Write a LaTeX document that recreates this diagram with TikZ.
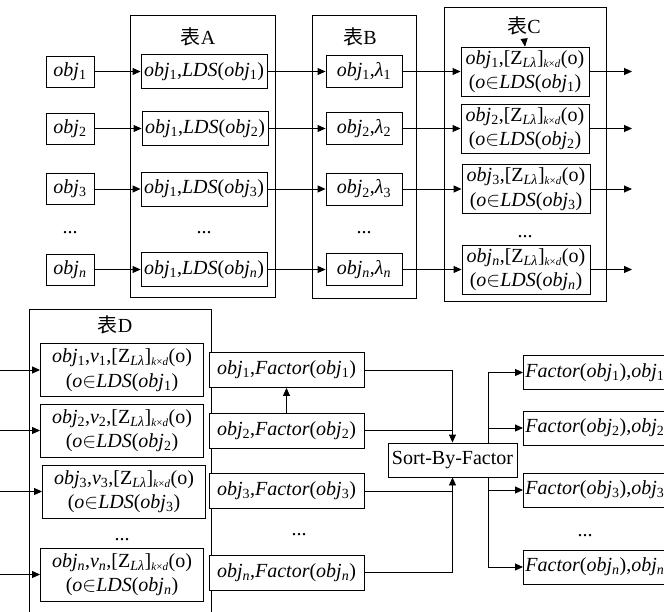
\documentclass[tikz,border=0pt]{standalone}
\usepackage{fontspec}
\setmainfont{Liberation Serif}
\newfontfamily\cjk{Noto Sans CJK SC}
\usetikzlibrary{arrows.meta}
\newcommand{\ob}[1]{\textit{obj}\textsubscript{#1}}
\newcommand{\lm}[1]{\textit{λ}\textsubscript{#1}}
\newcommand{\zl}{[Z\textsubscript{\textit{Lλ}}]\textsubscript{\fontsize{11pt}{11pt}\selectfont\textit{k}×\textit{d}}(o)}
\newcommand{\ld}[1]{(\textit{o}$\in$\textit{LDS}(\ob{#1})}

\begin{document}
\begin{tikzpicture}[x=1pt,y=-1pt,line width=0.9pt,font=\fontsize{20pt}{24.5pt}\selectfont]
  \tikzstyle{every node}+=[inner sep=2pt]
  \tikzstyle{box}=[draw,fill=white,minimum height=34pt]
  \tikzstyle{twoline}=[box,align=center,inner sep=1pt]
  \tikzstyle{arr}=[-{Triangle[length=8pt,width=7pt]}]
  \useasboundingbox (0,0) rectangle (664,612);
  \fill [white] (0,0) rectangle (664,612);
  % tables
  \draw (130,15) rectangle (275,297);
  \draw (312,15) rectangle (416,298);
  \draw (444,7) rectangle (606,301);
  \draw (29,309) rectangle (211,640);
  \node (ta) at (198,37) {{\cjk 表}A};
  \node (tb) at (360,37) {{\cjk 表}B};
  \node (tc) at (524,26) {{\cjk 表}C};
  \node (td) at (115,325) {{\cjk 表}D};
  % objects
  \node [box,minimum width=48pt,minimum height=31pt] (o1) at (70,71.5) {\ob{1}};
  \node [box,minimum width=48pt,minimum height=31pt] (o2) at (70,128.5) {\ob{2}};
  \node [box,minimum width=48pt,minimum height=31pt] (o3) at (70,189) {\ob{3}};
  \node (od) at (70,233) {...};
  \node [box,minimum width=48pt,minimum height=31pt] (on) at (70,269.5) {\ob{\textit{n}}};
  % table A
  \node [box,minimum width=126pt] (a1) at (204,71.5) {\ob{1},\textit{LDS}(\ob{1})};
  \node [box,minimum width=126pt] (a2) at (205,128.5) {\ob{1},\textit{LDS}(\ob{2})};
  \node [box,minimum width=126pt] (a3) at (204,189) {\ob{1},\textit{LDS}(\ob{3})};
  \node (ad) at (204,233) {...};
  \node [box,minimum width=126pt] (an) at (204,269.5) {\ob{1},\textit{LDS}(\ob{\textit{n}})};
  % table B
  \node [box,minimum width=76pt,minimum height=32pt] (b1) at (364,71.5) {\ob{1},\lm{1}};
  \node [box,minimum width=76pt,minimum height=32pt] (b2) at (364,128.5) {\ob{2},\lm{2}};
  \node [box,minimum width=76pt,minimum height=32pt] (b3) at (364,189) {\ob{2},\lm{3}};
  \node (bd) at (364,233) {...};
  \node [box,minimum width=76pt,minimum height=32pt] (bn) at (364,269.5) {\ob{\textit{n}},\lm{\textit{n}}};
  % table C
  \node [twoline,minimum width=128pt,minimum height=49pt] (c1) at (525,71.5) {\ob{1},\zl\\\ld{1}};
  \node [twoline,minimum width=128pt,minimum height=49pt] (c2) at (525,128.5) {\ob{2},\zl\\\ld{2}};
  \node [twoline,minimum width=128pt,minimum height=49pt] (c3) at (526,189) {\ob{3},\zl\\\ld{3}};
  \node (cd) at (525,237) {...};
  \node [twoline,minimum width=128pt,minimum height=49pt] (cn) at (526,269.5) {\ob{\textit{n}},\zl\\\ld{\textit{n}}};
  \coordinate (e1) at (632,71.5);
  \coordinate (e2) at (632,128.5);
  \coordinate (e3) at (632,189);
  \coordinate (en) at (632,269.5);
  \draw [arr] (o1) -- (a1);
  \draw [arr] (o2) -- (a2);
  \draw [arr] (o3) -- (a3);
  \draw [arr] (on) -- (an);
  \draw [arr] (a1) -- (b1);
  \draw [arr] (a2) -- (b2);
  \draw [arr] (a3) -- (b3);
  \draw [arr] (an) -- (bn);
  \draw [arr] (b1) -- (c1);
  \draw [arr] (b2) -- (c2);
  \draw [arr] (b3) -- (c3);
  \draw [arr] (bn) -- (cn);
  \draw [arr] (c1.east) -- (e1);
  \draw [arr] (c2.east) -- (e2);
  \draw [arr] (c3.east) -- (e3);
  \draw [arr] (cn.east) -- (en);
  \draw [arr,shorten <=8pt] (tc.south) -- (c1.north);
  % table D
  \node [twoline,minimum width=163pt,minimum height=53pt] (d1) at (122,370) {\ob{1},\textit{v}\textsubscript{1},\zl\\\ld{1}};
  \node [twoline,minimum width=163pt,minimum height=53pt] (d2) at (122,430.5) {\ob{2},\textit{v}\textsubscript{2},\zl\\\ld{2}};
  \node [twoline,minimum width=163pt,minimum height=53pt] (d3) at (124,491.5) {\ob{3},\textit{v}\textsubscript{3},\zl\\\ld{3}};
  \node (dd) at (122,540) {...};
  \node [twoline,minimum width=163pt,minimum height=53pt] (dn) at (122,574.5) {\ob{\textit{n}},\textit{v}\textsubscript{\textit{n}},\zl\\\ld{\textit{n}}};
  \coordinate (s1) at (0,370);
  \coordinate (s2) at (0,430.5);
  \coordinate (s3) at (0,491.5);
  \coordinate (sn) at (0,574.5);
  \draw [arr] (s1) -- (d1.west);
  \draw [arr] (s2) -- (d2.west);
  \draw [arr] (s3) -- (d3.west);
  \draw [arr] (sn) -- (dn.west);
  % factors
  \node [box,minimum width=155pt,minimum height=35pt] (f1) at (286.5,370) {\ob{1},\textit{Factor}(\ob{1})};
  \node [box,minimum width=155pt,minimum height=35pt] (f2) at (286.5,430.5) {\ob{2},\textit{Factor}(\ob{2})};
  \node [box,minimum width=155pt,minimum height=35pt] (f3) at (286.5,491) {\ob{3},\textit{Factor}(\ob{3})};
  \node (fd) at (299,535) {...};
  \node [box,minimum width=155pt,minimum height=35pt] (fn) at (286.5,572.5) {\ob{\textit{n}},\textit{Factor}(\ob{\textit{n}})};
  % sorted
  \node [box,anchor=west] (g1) at (523,372.5) {\textit{Factor}(\ob{1}),\ob{1}};
  \node [box,anchor=west] (g2) at (523,428) {\textit{Factor}(\ob{2}),\ob{2}};
  \node [box,anchor=west] (g3) at (523,490) {\textit{Factor}(\ob{3}),\ob{3}};
  \node (gd) at (585,536) {...};
  \node [box,anchor=west] (gn) at (523,567) {\textit{Factor}(\ob{\textit{n}}),\ob{\textit{n}}};
  \coordinate (bus) at (488,460);
  \draw (bus |- g1.west) -- (bus |- gn.west);
  \draw [arr] (bus |- g1.west) -- (g1.west);
  \draw [arr] (bus |- g2.west) -- (g2.west);
  \draw [arr] (bus |- g3.west) -- (g3.west);
  \draw [arr] (bus |- gn.west) -- (gn.west);
  \node [box,minimum width=129pt] (sort) at (452.5,460) {Sort-By-Factor};
  \draw [arr] (f2) -- (f1);
  \draw [arr] (f1.east) -| (sort.north);
  \draw (f2.east) -- (f2.east -| sort.north);
  \draw (f3.east) -- (f3.east -| sort.south);
  \draw [arr] (fn.east) -| (sort.south);
\end{tikzpicture}
\end{document}
